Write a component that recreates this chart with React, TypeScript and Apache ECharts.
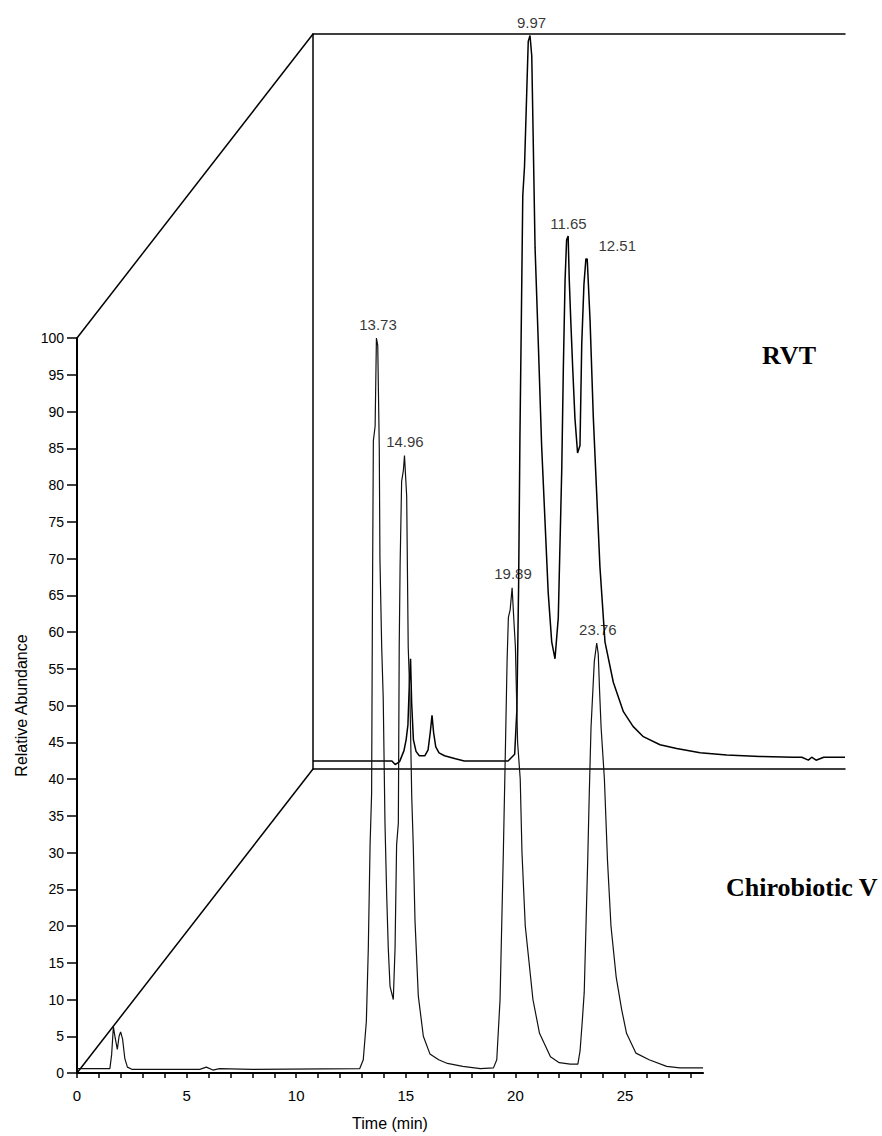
import React, { useEffect, useRef } from 'react';
import * as echarts from 'echarts';

// ---------- data ----------
// Front trace: Chirobiotic V (time in min, relative abundance)
const frontTime = [
  0, 1.5, 1.58, 1.66, 1.74, 1.84, 1.92, 1.99, 2.08, 2.18, 2.3, 2.5, 5.6, 5.9, 6.2, 6.5, 8.0, 12.9,
  13.06, 13.2, 13.29, 13.37, 13.44, 13.48, 13.52, 13.6, 13.66, 13.72, 13.79, 13.82, 13.9, 13.97,
  14.05, 14.13, 14.2, 14.28, 14.43, 14.51, 14.58, 14.66, 14.7, 14.74, 14.81, 14.89, 14.94, 15.04,
  15.11, 15.19, 15.27, 15.34, 15.42, 15.57, 15.8, 16.1, 16.5, 16.9, 17.6, 18.4, 19.0, 19.15, 19.3,
  19.45, 19.55, 19.62, 19.68, 19.76, 19.85, 19.93, 20.0, 20.1, 20.22, 20.3, 20.45, 20.8, 21.1, 21.6,
  22.0, 22.5, 22.85, 22.95, 23.05, 23.14, 23.22, 23.3, 23.37, 23.45, 23.6, 23.71, 23.78, 23.84,
  23.91, 24.06, 24.2, 24.36, 24.6, 24.85, 25.07, 25.5, 26.1, 26.9, 27.5, 28.56,
];
const frontAbund = [
  0.6, 0.6, 2.5, 6.3, 4.8, 3.2, 5.0, 5.6, 4.6, 2.0, 0.8, 0.5, 0.5, 0.8, 0.4, 0.6, 0.5, 0.6,
  1.8, 7, 17, 31, 38, 65, 86, 88, 100, 99, 85, 70, 58, 51,
  34, 24, 17, 11.8, 10, 17, 31, 34, 58, 69, 80.5, 82, 84, 78.5,
  58, 51, 37.7, 31, 20.7, 10.5, 5, 2.6, 1.8, 1.3, 0.9, 0.6, 0.7, 1.8, 10,
  30, 45, 56, 62, 63, 66, 61.6, 58, 45, 40, 30, 20, 10, 5.4, 2.2,
  1.4, 1.2, 1.2, 3.0, 7, 11, 20, 29, 38, 47, 56, 58.5, 57, 52,
  47, 40, 29, 20, 13, 8.6, 5.4, 2.7, 1.8, 0.9, 0.7, 0.7,
];

// Back trace: RVT
const backTime = [
  0, 3.6, 3.75, 3.95, 4.15, 4.25, 4.33, 4.4, 4.45, 4.5, 4.58, 4.7, 4.85, 5.1, 5.25, 5.35, 5.43,
  5.5, 5.6, 5.75, 6.0, 6.5, 6.9, 8.9, 9.2, 9.3, 9.38, 9.44, 9.5, 9.57, 9.65, 9.75, 9.82, 9.9,
  9.98, 10.05, 10.13, 10.28, 10.43, 10.58, 10.73, 10.89, 11.04, 11.19, 11.35, 11.42, 11.5, 11.57,
  11.64, 11.69, 11.76, 11.85, 11.95, 12.07, 12.18, 12.26, 12.36, 12.45, 12.51, 12.64, 12.79,
  12.94, 13.09, 13.32, 13.7, 14.16, 14.6, 15.07, 15.83, 16.59, 17.66, 18.87, 20.39, 21.9, 22.3,
  22.6, 22.75, 22.95, 23.3, 24.27,
];
const backAbund = [
  1.1, 1.1, 0.6, 1.0, 2.5, 4, 6, 12, 15, 9, 4, 2.4, 1.8, 1.8, 2.6, 5, 7.3,
  5, 3, 2.2, 1.8, 1.4, 1.1, 1.1, 2.0, 8, 25, 45, 60, 78, 82, 92, 99, 99.8,
  97, 85, 71, 57.8, 44, 34, 24, 17.3, 15, 20.6, 41, 54.4, 66.6, 72,
  72.5, 66.6, 61, 54.4, 47.7, 43, 44, 57.8, 65.9, 69.4, 69.4, 61, 47.7,
  37.6, 27.5, 17.3, 11.8, 7.8, 5.8, 4.4, 3.3, 2.8, 2.2, 1.9, 1.7, 1.6, 1.6,
  1.2, 1.6, 1.2, 1.6, 1.6,
];

// Peak annotations
const frontPeakLabels = ['13.73', '14.96', '19.89', '23.76'];
const frontPeakTimes = [13.73, 14.96, 19.89, 23.76];
const frontPeakHeights = [100, 84, 66, 58.5];
const backPeakLabels = ['9.97', '11.65', '12.51'];
const backPeakTimes = [9.97, 11.65, 12.51];
const backPeakHeights = [99.8, 72.5, 69.4];

// Axis ticks
const xTickLabels = [0, 5, 10, 15, 20, 25];
const xTicks = Array.from({ length: 29 }, (_, i) => i);
const yTickLabels = [0, 5, 10, 15, 20, 25, 30, 35, 40, 45, 50, 55, 60, 65, 70, 75, 80, 85, 90, 95, 100];

// ---------- layout ----------
const PX_MIN = 21.92;
const PX_UNIT = 7.35;
const F_LEFT = 77;
const F_TOP = 338;
const F_XMAX = 28.56;
const B_XMAX = 24.27;
const Y_MAX = 100;
const SHIFT_X = 236;
const SHIFT_Y = 304;
const F_W = F_XMAX * PX_MIN;
const H = Y_MAX * PX_UNIT;
const B_LEFT = F_LEFT + SHIFT_X;
const B_TOP = F_TOP - SHIFT_Y;
const B_W = B_XMAX * PX_MIN;

const SANS = "'Liberation Sans', Arial, sans-serif";
const SERIF = "'Liberation Serif', 'Times New Roman', serif";

export default function App() {
  const ref = useRef<HTMLDivElement>(null);
  useEffect(() => {
    document.body.style.margin = '0';
    if (!ref.current) return;
    const chart = echarts.init(ref.current, undefined, { renderer: 'svg' });
    const black = '#000';
    chart.setOption({
      animation: false,
      backgroundColor: '#fff',
      grid: [
        { left: F_LEFT, top: F_TOP, width: F_W, height: H },
        { left: B_LEFT, top: B_TOP, width: B_W, height: H },
      ],
      xAxis: [
        {
          gridIndex: 0, type: 'value', min: 0, max: F_XMAX,
          axisLine: { show: true, lineStyle: { color: black, width: 2 } },
          axisTick: { show: true, customValues: xTicks, length: 5, lineStyle: { color: black, width: 1.5 } },
          axisLabel: { customValues: xTickLabels, color: black, fontSize: 15, fontFamily: SANS, margin: 15 },
          splitLine: { show: false },
          name: 'Time (min)', nameLocation: 'middle', nameGap: 42,
          nameTextStyle: { color: black, fontSize: 16, fontFamily: SANS },
        },
        {
          gridIndex: 1, type: 'value', min: 0, max: B_XMAX, position: 'bottom',
          axisLine: { show: true, onZero: false, lineStyle: { color: black, width: 1.5 } },
          axisTick: { show: false }, axisLabel: { show: false }, splitLine: { show: false },
        },
        {
          gridIndex: 1, type: 'value', min: 0, max: B_XMAX, position: 'top',
          axisLine: { show: true, onZero: false, lineStyle: { color: black, width: 1.5 } },
          axisTick: { show: false }, axisLabel: { show: false }, splitLine: { show: false },
        },
      ],
      yAxis: [
        {
          gridIndex: 0, type: 'value', min: 0, max: Y_MAX, interval: 5,
          axisLine: { show: true, lineStyle: { color: black, width: 2 } },
          axisTick: { show: true, length: 10, customValues: yTickLabels, lineStyle: { color: black, width: 1.5 } },
          axisLabel: { customValues: yTickLabels, color: black, fontSize: 14, fontFamily: SANS, margin: 13 },
          splitLine: { show: false },
          name: 'Relative Abundance', nameLocation: 'middle', nameGap: 46,
          nameTextStyle: { color: black, fontSize: 16, fontFamily: SANS },
        },
        {
          gridIndex: 1, type: 'value', min: 0, max: Y_MAX,
          axisLine: { show: true, onZero: false, lineStyle: { color: black, width: 1.5 } },
          axisTick: { show: false }, axisLabel: { show: false }, splitLine: { show: false },
        },
      ],
      series: [
        {
          type: 'line', xAxisIndex: 1, yAxisIndex: 1, showSymbol: false, symbol: 'none',
          data: backTime.map((t, i) => [t, backAbund[i]]),
          lineStyle: { color: black, width: 1.5 },
        },
        {
          type: 'line', xAxisIndex: 0, yAxisIndex: 0, showSymbol: false, symbol: 'none',
          data: frontTime.map((t, i) => [t, frontAbund[i]]),
          lineStyle: { color: '#111', width: 1.2 },
        },
        {
          type: 'scatter', xAxisIndex: 0, yAxisIndex: 0, symbolSize: 1, clip: false,
          itemStyle: { color: 'rgba(0,0,0,0)' },
          data: frontPeakTimes.map((t, i) => ({ value: [t, frontPeakHeights[i]], name: frontPeakLabels[i] })),
          label: {
            show: true, position: 'top', distance: 6, formatter: '{b}',
            color: black, fontSize: 15, fontFamily: SANS,
          },
        },
        {
          type: 'scatter', xAxisIndex: 1, yAxisIndex: 1, symbolSize: 1, clip: false,
          itemStyle: { color: 'rgba(0,0,0,0)' },
          data: backPeakTimes.map((t, i) => ({
            value: [t, backPeakHeights[i]], name: backPeakLabels[i],
            label: i === 2 ? { offset: [30, 0] } : undefined,
          })),
          label: {
            show: true, position: 'top', distance: 5, formatter: '{b}',
            color: black, fontSize: 15, fontFamily: SANS,
          },
        },
      ],
      graphic: [
        {
          type: 'line', silent: true,
          shape: { x1: F_LEFT, y1: F_TOP, x2: B_LEFT, y2: B_TOP },
          style: { stroke: black, lineWidth: 1.5 },
        },
        {
          type: 'line', silent: true,
          shape: { x1: F_LEFT, y1: F_TOP + H, x2: B_LEFT, y2: B_TOP + H },
          style: { stroke: black, lineWidth: 1.5 },
        },
        {
          type: 'text', left: 762, top: 342,
          style: { text: 'RVT', fill: black, font: `bold 26px ${SERIF}` },
        },
        {
          type: 'text', right: 4, top: 874,
          style: { text: 'Chirobiotic V', fill: black, font: `bold 26px ${SERIF}` },
        },
      ],
    });
    return () => chart.dispose();
  }, []);
  return <div ref={ref} style={{ width: 882, height: 1136 }} />;
}
